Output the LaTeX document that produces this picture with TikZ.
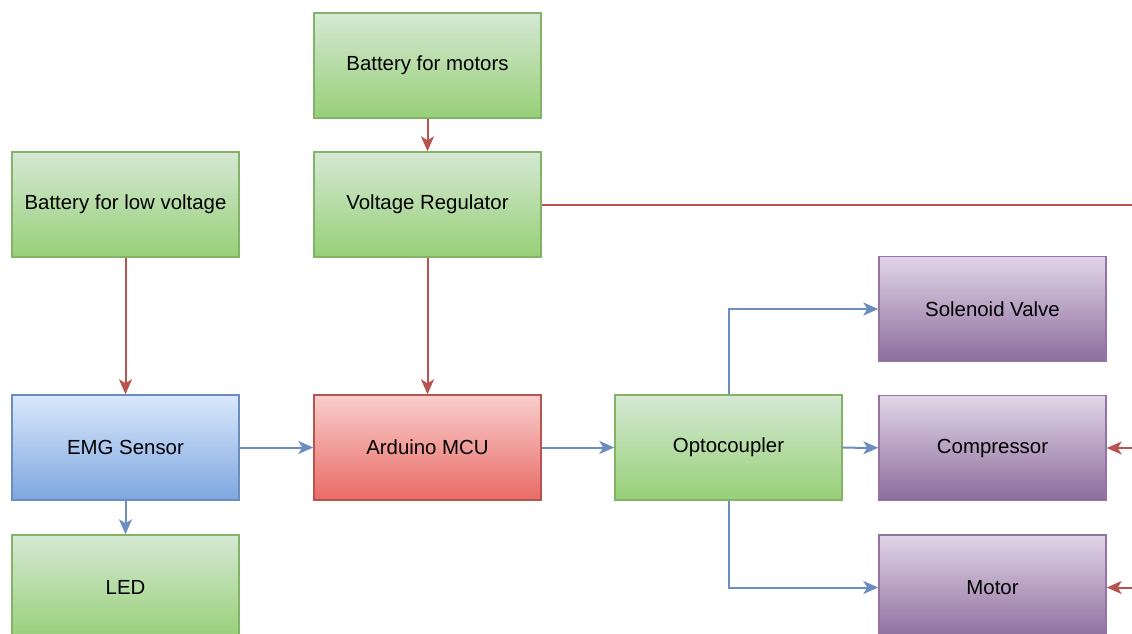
\documentclass[tikz,border=0pt]{standalone}
\usepackage{fontspec}
\setmainfont{Liberation Sans}
\usepackage{tikz}
\usetikzlibrary{arrows.meta, positioning}
\definecolor{grnTop}{HTML}{D5E8D4}
\definecolor{grnBot}{HTML}{97D077}
\definecolor{grnLine}{HTML}{82B366}
\definecolor{bluTop}{HTML}{DAE8FC}
\definecolor{bluBot}{HTML}{7EA6E0}
\definecolor{bluLine}{HTML}{6C8EBF}
\definecolor{redTop}{HTML}{F8CECC}
\definecolor{redBot}{HTML}{EA6B66}
\definecolor{redLine}{HTML}{B85450}
\definecolor{purTop}{HTML}{E1D5E7}
\definecolor{purBot}{HTML}{8C6C9C}
\definecolor{purLine}{HTML}{9673A6}

\begin{document}
\begin{tikzpicture}[x=1pt, y=-1pt, >={Stealth[length=15pt,width=13pt,inset=4pt]},
    block/.style={rectangle, minimum width=227pt, minimum height=105pt, inner sep=0pt,
      font=\fontsize{20.4}{24}\selectfont, line width=1.4pt},
    grnbox/.style={block, draw=grnLine, top color=grnTop, bottom color=grnBot},
    blubox/.style={block, draw=bluLine, top color=bluTop, bottom color=bluBot},
    redbox/.style={block, draw=redLine, top color=redTop, bottom color=redBot},
    purbox/.style={block, draw=purLine, top color=purTop, bottom color=purBot},
    rail/.style={draw=redLine, line width=2pt},
    pwr/.style={rail, ->},
    sig/.style={draw=bluLine, line width=2pt, ->}]
  \clip (0,0) rectangle (1132,633);
  % power supplies
  \node[grnbox] (bmot) at (427.5,65.5) {Battery for motors};
  \node[grnbox] (vreg) at (427.5,204.5) {Voltage Regulator};
  \node[grnbox] (blow) at (125.5,204.5) {Battery for low voltage};
  % sensing and control row
  \node[blubox] (emg) at (125.5,447.5) {EMG Sensor};
  \node[grnbox] (led) at (125.5,587.5) {LED};
  \node[redbox] (mcu) at (427.5,447.5) {Arduino MCU};
  \node[grnbox] (opto) at (728.5,447.5) {Optocoupler};
  % actuators
  \node[purbox] (sol) at (992.5,309) {Solenoid Valve};
  \node[purbox] (comp) at (992.5,448) {Compressor};
  \node[purbox] (mot) at (992.5,587.5) {Motor};
  % supply rail off the right edge
  \coordinate (railA) at (1140,204.5);
  \coordinate (railB) at (1140,448);
  \coordinate (railC) at (1140,587.5);
  % power lines
  \draw[pwr] (bmot) -- (vreg);
  \draw[pwr] (vreg) -- (mcu);
  \draw[pwr] (blow) -- (emg);
  \draw[rail] (vreg.east) -- (railA);
  \draw[pwr] (railB) -- (comp.east);
  \draw[pwr] (railC) -- (mot.east);
  % signal lines
  \draw[sig] (emg) -- (mcu);
  \draw[sig] (emg) -- (led);
  \draw[sig] (mcu) -- (opto);
  \draw[sig] (opto) -- (comp);
  \draw[sig] (opto.north) |- (sol.west);
  \draw[sig] (opto.south) |- (mot.west);
\end{tikzpicture}
\end{document}
